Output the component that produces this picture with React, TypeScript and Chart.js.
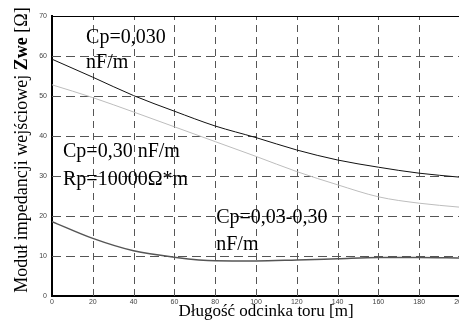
import React, { useEffect, useRef } from "react";
import { Chart, registerables } from "chart.js";

Chart.register(...registerables);

// Data
const xValues = [0, 20, 40, 60, 80, 100, 120, 140, 160, 180, 200];
const cp030Values = [59.2, 54.7, 50.1, 46.2, 42.5, 39.6, 36.5, 34.0, 32.2, 30.7, 29.7];
const cp30RpValues = [52.8, 49.6, 46.0, 42.3, 38.6, 34.9, 31.1, 27.8, 24.8, 23.2, 22.2];
const cpRangeValues = [18.6, 14.4, 11.3, 9.7, 8.8, 8.75, 9.0, 9.3, 9.6, 9.6, 9.5];

const xMin = 0;
const xMax = 200;
const xStep = 20;
const yMin = 0;
const yMax = 70;
const yStep = 10;

const xTitle = "Długość odcinka toru [m]";
const yTitleParts = [
  { text: "Moduł impedancji wejściowej ", bold: false },
  { text: "Zwe", bold: true },
  { text: " [Ω]", bold: false },
];

// annotations positioned in data coordinates
const annotations = [
  { text: "Cp=0,030", x: 16.7, y: 63.2 },
  { text: "nF/m", x: 16.7, y: 57.0 },
  { text: "Cp=0,30 nF/m", x: 5.4, y: 34.8 },
  { text: "Rp=10000Ω*m", x: 5.4, y: 27.7 },
  { text: "Cp=0,03-0,30", x: 80.5, y: 18.2 },
  { text: "nF/m", x: 80.5, y: 11.5 },
];

const serif = "'Liberation Serif', 'Times New Roman', serif";

// dashed grid drawn from the library's scale ticks
const dashedGridPlugin = {
  id: "dashedGrid",
  beforeDatasetsDraw(chart: any) {
    const { ctx, chartArea, scales } = chart;
    ctx.save();
    ctx.strokeStyle = "#555";
    ctx.lineWidth = 1;
    // vertical lines
    ctx.setLineDash([7, 5]);
    for (const t of scales.x.ticks) {
      const px = Math.round(scales.x.getPixelForValue(t.value)) + 0.5;
      if (t.value === xMin) continue;
      ctx.beginPath();
      ctx.moveTo(px, chartArea.bottom);
      ctx.lineTo(px, chartArea.top);
      ctx.stroke();
    }
    // horizontal lines
    ctx.setLineDash([9, 5]);
    for (const t of scales.y.ticks) {
      if (t.value === yMin || t.value === yMax) continue;
      const py = Math.round(scales.y.getPixelForValue(t.value)) + 0.5;
      ctx.beginPath();
      ctx.moveTo(chartArea.left, py);
      ctx.lineTo(chartArea.right, py);
      ctx.stroke();
    }
    ctx.restore();
  },
  afterDatasetsDraw(chart: any) {
    const { ctx, chartArea, scales } = chart;
    ctx.save();
    // top frame line
    ctx.strokeStyle = "#000";
    ctx.lineWidth = 1;
    ctx.setLineDash([]);
    ctx.beginPath();
    ctx.moveTo(chartArea.left, chartArea.top + 0.5);
    ctx.lineTo(chartArea.right, chartArea.top + 0.5);
    ctx.stroke();

    // annotations
    ctx.fillStyle = "#000";
    ctx.font = `20px ${serif}`;
    ctx.textAlign = "left";
    ctx.textBaseline = "alphabetic";
    for (const a of annotations) {
      const px = scales.x.getPixelForValue(a.x);
      const py = scales.y.getPixelForValue(a.y);
      ctx.fillText(a.text, px, py);
    }

    // x title
    ctx.font = `17px ${serif}`;
    ctx.textAlign = "center";
    ctx.fillText(xTitle, 266, 316);

    // y title (rotated)
    ctx.translate(27, 150);
    ctx.rotate(-Math.PI / 2);
    ctx.textAlign = "left";
    let total = 0;
    const widths: number[] = [];
    for (const p of yTitleParts) {
      ctx.font = `${p.bold ? "bold " : ""}18px ${serif}`;
      const w = ctx.measureText(p.text).width;
      widths.push(w);
      total += w;
    }
    let cx = -total / 2;
    yTitleParts.forEach((p, i) => {
      ctx.font = `${p.bold ? "bold " : ""}18px ${serif}`;
      ctx.fillText(p.text, cx, 0);
      cx += widths[i];
    });
    ctx.restore();
  },
};

export default function App() {
  const canvasRef = useRef<HTMLCanvasElement | null>(null);

  useEffect(() => {
    const canvas = canvasRef.current;
    if (!canvas) return;
    const toPts = (vals: number[]) => xValues.map((x, i) => ({ x, y: vals[i] }));
    const tickFont = { family: "'Liberation Sans', Arial, sans-serif", size: 7 };
    const chart = new Chart(canvas, {
      type: "line",
      data: {
        datasets: [
          {
            label: "Cp=0,030 nF/m",
            data: toPts(cp030Values),
            borderColor: "#111",
            borderWidth: 1,
            pointRadius: 0,
            cubicInterpolationMode: "monotone",
            fill: false,
          },
          {
            label: "Cp=0,30 nF/m Rp=10000Ω*m",
            data: toPts(cp30RpValues),
            borderColor: "#bdbdbd",
            borderWidth: 1,
            pointRadius: 0,
            cubicInterpolationMode: "monotone",
            fill: false,
          },
          {
            label: "Cp=0,03-0,30 nF/m",
            data: toPts(cpRangeValues),
            borderColor: "#555",
            borderWidth: 1.5,
            pointRadius: 0,
            cubicInterpolationMode: "monotone",
            fill: false,
          },
        ],
      },
      options: {
        responsive: false,
        animation: false,
        events: [],
        layout: { padding: { left: 0, top: 16, right: 20, bottom: 0 } },
        plugins: {
          legend: { display: false },
          tooltip: { enabled: false },
          title: { display: false },
        },
        scales: {
          x: {
            type: "linear",
            min: xMin,
            max: xMax,
            afterFit: (s: any) => {
              s.height = 26;
            },
            ticks: {
              stepSize: xStep,
              autoSkip: false,
              maxRotation: 0,
              padding: 2,
              color: "#444",
              font: tickFont,
            },
            grid: { drawOnChartArea: false, drawTicks: false },
            border: { display: true, color: "#000", width: 2 },
          },
          y: {
            type: "linear",
            min: yMin,
            max: yMax,
            afterFit: (s: any) => {
              s.width = 52;
            },
            ticks: {
              stepSize: yStep,
              padding: 5,
              color: "#444",
              font: tickFont,
            },
            grid: { drawOnChartArea: false, drawTicks: false },
            border: { display: true, color: "#000", width: 2 },
          },
        },
      },
      plugins: [dashedGridPlugin],
    } as any);
    return () => chart.destroy();
  }, []);

  return (
    <div
      style={{
        position: "fixed",
        left: 0,
        top: 0,
        width: 459,
        height: 322,
        overflow: "hidden",
        background: "#fff",
      }}
    >
      <canvas ref={canvasRef} width={480} height={322} style={{ display: "block" }} />
    </div>
  );
}
